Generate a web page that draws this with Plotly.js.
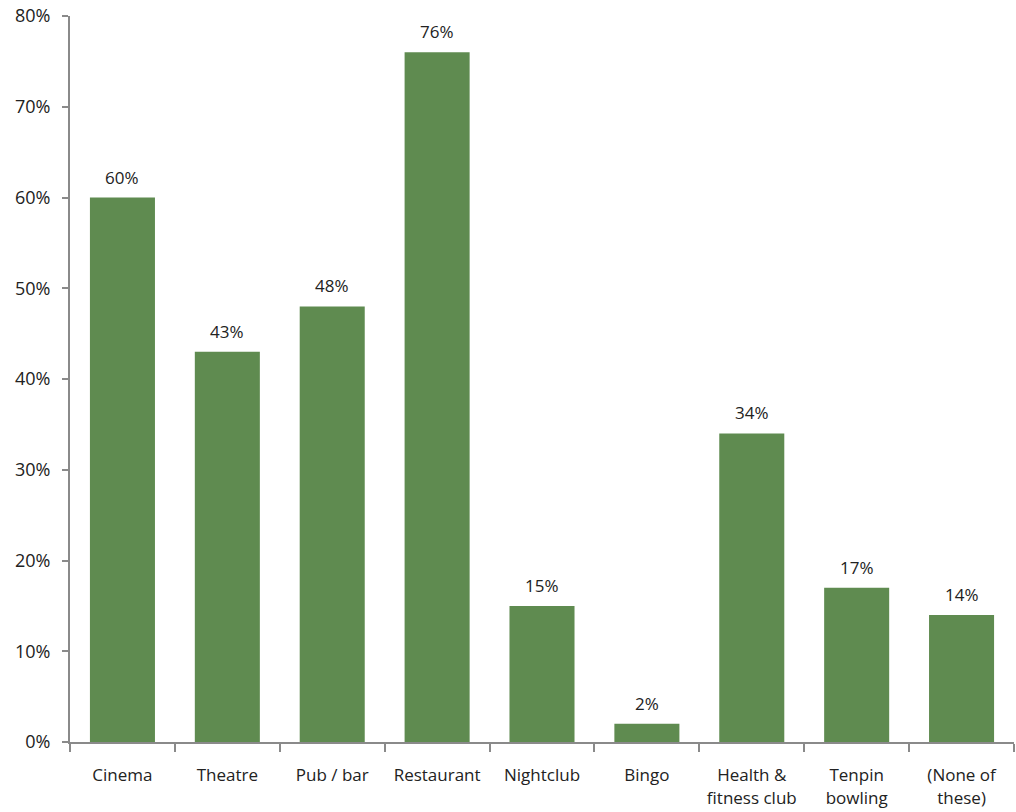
<!DOCTYPE html>
<html>
<head>
<meta charset="utf-8">
<script src="https://cdn.plot.ly/plotly-3.0.1.min.js"></script>
<style>html,body{margin:0;padding:0;background:#fff;}#chart{width:1016px;height:812px;}</style>
</head>
<body>
<div id="chart"></div>
<script>
const categories = ["Cinema", "Theatre", "Pub / bar", "Restaurant", "Nightclub", "Bingo", "Health &<br>fitness club", "Tenpin<br>bowling", "(None of<br>these)"];
const values = [0.60, 0.43, 0.48, 0.76, 0.15, 0.02, 0.34, 0.17, 0.14];
const labels = ["60%", "43%", "48%", "76%", "15%", "2%", "34%", "17%", "14%"];
const yTicks = [0, 0.1, 0.2, 0.3, 0.4, 0.5, 0.6, 0.7, 0.8];
const yTickText = ["0%", "10%", "20%", "30%", "40%", "50%", "60%", "70%", "80%"];

const fam = "Open Sans, DejaVu Sans, sans-serif";
const textColor = "#222";

const annotations = categories.map((c, i) => ({
  x: c, y: values[i], xref: "x", yref: "y",
  text: labels[i], showarrow: false,
  yanchor: "bottom", yshift: 7,
  font: {family: fam, size: 17, color: textColor}
}));

Plotly.newPlot("chart", [{
  type: "bar",
  x: categories,
  y: values,
  marker: {color: "#5f8b50", line: {width: 0}},
  hoverinfo: "none"
}], {
  width: 1016, height: 812,
  margin: {l: 70, r: 2, t: 16, b: 70},
  paper_bgcolor: "#fff", plot_bgcolor: "#fff",
  bargap: 0.38,
  showlegend: false,
  font: {family: fam, size: 17, color: textColor},
  annotations: annotations,
  xaxis: {
    showline: true, linecolor: "#8a8a8a", linewidth: 2,
    ticks: "outside", ticklen: 8, tickcolor: "#8a8a8a", tickwidth: 2,
    tickson: "boundaries",
    ticklabelstandoff: 17,
    showgrid: false, zeroline: false,
    tickfont: {family: fam, size: 17, color: textColor}, fixedrange: true
  },
  yaxis: {
    range: [0, 0.8],
    tickvals: yTicks, ticktext: yTickText,
    showline: true, linecolor: "#8a8a8a", linewidth: 2,
    ticks: "outside", ticklen: 6, tickcolor: "#8a8a8a", tickwidth: 2,
    ticklabelstandoff: 8,
    showgrid: false, zeroline: false,
    tickfont: {family: fam, size: 18, color: textColor}, fixedrange: true
  }
}, {staticPlot: true});
</script>
</body>
</html>
